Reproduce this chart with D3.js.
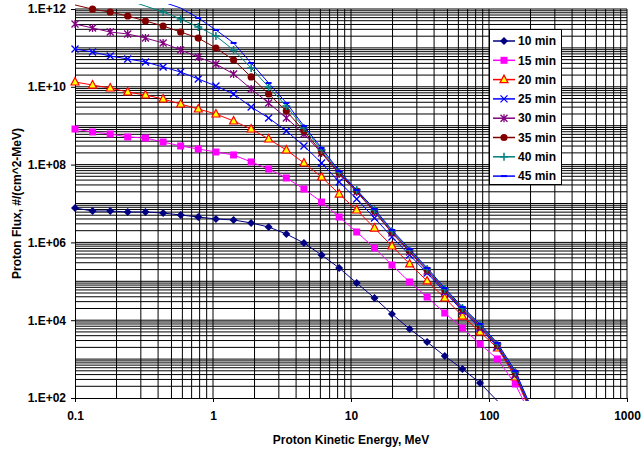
<!DOCTYPE html>
<html>
<head>
<meta charset="utf-8">
<script src="https://cdn.jsdelivr.net/npm/d3@7"></script>
<style>
  body { margin: 0; background: #fff; }
  svg { display: block; font-family: "Liberation Sans", Arial, sans-serif; }
</style>
</head>
<body>
<svg width="643" height="453"></svg>
<script>
// energies (MeV) shared by all series
const energy = [0.1, 0.134, 0.18, 0.241, 0.324, 0.435, 0.583, 0.782, 1.05, 1.41, 1.89, 2.53, 3.4, 4.56,
  6.12, 8.21, 11.0, 14.8, 19.8, 26.6, 35.6, 47.8, 64.2, 86.1, 115, 155, 208];

const seriesNames = ["10 min", "15 min", "20 min", "25 min", "30 min", "35 min", "40 min", "45 min"];

const flux10 = [7.66e6, 6.41e6, 6.41e6, 6.04e6, 6.04e6, 5.7e6, 5.06e6, 4.5e6, 4.0e6, 3.77e6, 3.16e6, 2.49e6, 1.64e6,
  9.66e5, 4.74e5, 2.2e5, 9.04e4, 3.72e4, 1.45e4, 5.94e3, 2.75e3, 1.2e3, 557, 243, 84, 31];
const flux15 = [8.22e8, 6.89e8, 6.12e8, 5.13e8, 4.83e8, 3.81e8, 3.01e8, 2.52e8, 2.11e8, 1.77e8, 1.17e8, 7.71e7, 4.53e7,
  2.36e7, 1.09e7, 4.5e6, 1.85e6, 7.18e5, 2.62e5, 9.59e4, 3.94e4, 1.53e4, 6.3e3, 2.44e3, 1.01e3, 229, 27];
const flux20 = [1.33e10, 1.11e10, 9.31e9, 7.35e9, 6.15e9, 4.85e9, 3.61e9, 2.69e9, 2.0e9, 1.32e9, 8.22e8, 4.55e8, 2.37e8,
  1.1e8, 4.8e7, 1.75e7, 6.81e6, 2.34e6, 8.07e5, 2.79e5, 1.02e5, 3.72e4, 1.28e4, 4.98e3, 1.93e3, 347, 33];
const flux25 = [9.38e10, 7.85e10, 6.19e10, 5.19e10, 4.35e10, 3.23e10, 2.4e10, 1.59e10, 1.05e10, 6.53e9, 3.03e9, 1.58e9,
  7.31e8, 3.01e8, 1.1e8, 3.57e7, 1.31e7, 4.24e6, 1.38e6, 4.74e5, 1.63e5, 5.31e4, 1.73e4, 6.31e3, 2.05e3, 390, 37];
const flux30 = [4.11e11, 3.25e11, 2.56e11, 2.28e11, 1.79e11, 1.34e11, 8.83e10, 5.83e10, 3.85e10, 2.13e10, 8.77e9,
  3.84e9, 1.58e9, 6.12e8, 1.99e8, 5.73e7, 1.98e7, 6.04e6, 1.75e6, 5.66e5, 1.84e5, 5.64e4, 1.83e4, 6.68e3, 2.22e3, 409, 39];
const flux35 = [1.27e12, 9.9e11, 8.37e11, 6.61e11, 4.92e11, 3.66e11, 2.56e11, 1.79e11, 9.93e10, 4.89e10, 1.79e10,
  6.53e9, 2.39e9, 7.31e8, 2.11e8, 6.08e7, 2.09e7, 6.41e6, 1.85e6, 6.01e5, 1.95e5, 5.97e4, 1.94e4, 7.1e3, 2.3e3, 440, 41];
const flux40 = [3.47e12, 2.74e12, 2.16e12, 1.7e12, 1.19e12, 8.37e11, 5.53e11, 3.44e11, 2.02e11, 8.83e10, 3.04e10,
  9.89e9, 3.21e9, 8.73e8, 2.37e8, 6.46e7, 2.22e7, 6.81e6, 1.96e6, 6.38e5, 2.07e5, 6.34e4, 2.06e4, 7.53e3, 2.44e3, 466, 44];
const flux45 = [6.27e12, 4.94e12, 3.9e12, 2.9e12, 2.16e12, 1.51e12, 1.06e12, 5.87e11, 2.88e11, 1.34e11, 4.09e10,
  1.25e10, 3.84e9, 9.82e8, 2.67e8, 6.84e7, 2.22e7, 7.23e6, 2.08e6, 6.76e5, 2.2e5, 6.73e4, 2.18e4, 7.98e3, 2.59e3, 494, 46];

const xTickLabels = ["0.1", "1", "10", "100", "1000"];
const yTickLabels = ["1.E+02", "1.E+04", "1.E+06", "1.E+08", "1.E+10", "1.E+12"];

const allFlux = [flux10, flux15, flux20, flux25, flux30, flux35, flux40, flux45];

// 계열별 스타일
const styles = [
  { color: "#000080", marker: "diamond" },
  { color: "#FF00FF", marker: "square" },
  { color: "#FF0000", marker: "triangle" },
  { color: "#0000FF", marker: "x" },
  { color: "#800080", marker: "star" },
  { color: "#800000", marker: "circle" },
  { color: "#008080", marker: "plus" },
  { color: "#0000FF", marker: "dash" }
];

const svg = d3.select("svg");
const plotLeft = 75, plotRight = 627, plotTop = 9, plotBottom = 398;

const x = d3.scaleLog().domain([0.1, 1000]).range([plotLeft, plotRight]);
const y = d3.scaleLog().domain([1e2, 1e12]).range([plotBottom, plotTop]);

// 마커 그리기
function drawMarker(g, type, color) {
  if (type === "diamond") g.append("path").attr("d", "M0,-4L4,0L0,4L-4,0Z").attr("fill", color);
  else if (type === "square") g.append("rect").attr("x", -3.5).attr("y", -3.5).attr("width", 7).attr("height", 7).attr("fill", color);
  else if (type === "triangle") g.append("path").attr("d", "M0,-4.5L4,3L-4,3Z").attr("fill", "#FFFF00").attr("stroke", color).attr("stroke-width", 1.2);
  else if (type === "x") g.append("path").attr("d", "M-3.5,-3.5L3.5,3.5M-3.5,3.5L3.5,-3.5").attr("stroke", color).attr("stroke-width", 1.3);
  else if (type === "star") g.append("path").attr("d", "M-3.5,-3.5L3.5,3.5M-3.5,3.5L3.5,-3.5M0,-4L0,4").attr("stroke", color).attr("stroke-width", 1.3);
  else if (type === "circle") g.append("circle").attr("r", 3.6).attr("fill", color);
  else if (type === "plus") g.append("path").attr("d", "M-4,0H4M0,-4V4").attr("stroke", color).attr("stroke-width", 1.5);
  else if (type === "dash") g.append("path").attr("d", "M-3,0H3").attr("stroke", color).attr("stroke-width", 2);
}

// 격자선 (1~9 배수)
const grid = svg.append("g").attr("stroke", "#000").attr("stroke-width", 1);
const xGrid = x.ticks(40).filter((d) => d > 0.1 + 1e-9);
const yGrid = y.ticks(100).filter((d) => d > 1e2 * 1.0001);
grid.selectAll(".gx").data(xGrid).enter().append("line")
  .attr("x1", (d) => x(d)).attr("x2", (d) => x(d)).attr("y1", plotTop).attr("y2", plotBottom);
grid.selectAll(".gy").data(yGrid).enter().append("line")
  .attr("x1", plotLeft).attr("x2", plotRight).attr("y1", (d) => y(d)).attr("y2", (d) => y(d));

// 축
const xAxis = d3.axisBottom(x).tickValues([0.1, 1, 10, 100, 1000]).tickSize(4).tickPadding(5)
  .tickFormat((d, i) => xTickLabels[i]);
const yAxis = d3.axisLeft(y).tickValues([1e2, 1e4, 1e6, 1e8, 1e10, 1e12]).tickSize(4).tickPadding(5)
  .tickFormat((d, i) => yTickLabels[i]);

svg.append("g").attr("transform", `translate(0,${plotBottom})`).call(xAxis)
  .call((g) => g.selectAll("text").style("font-size", "12px").style("font-weight", "bold").attr("fill", "#000").attr("dy", "1.1em"));
svg.append("g").attr("transform", `translate(${plotLeft},0)`).call(yAxis)
  .call((g) => g.selectAll("text").style("font-size", "12px").style("font-weight", "bold").attr("fill", "#000"));
svg.selectAll(".domain").attr("stroke", "#000");
svg.selectAll(".tick line").attr("stroke", "#000");

// 데이터 계열
svg.append("clipPath").attr("id", "clip").append("rect")
  .attr("x", plotLeft).attr("y", 4).attr("width", plotRight - plotLeft).attr("height", 401 - 4);

const line = d3.line().x((d) => x(d[0])).y((d) => y(d[1]));

allFlux.forEach((vals, s) => {
  const pts = vals.map((v, i) => [energy[i], v]);
  svg.append("path").datum(pts).attr("d", line)
    .attr("fill", "none").attr("stroke", styles[s].color).attr("stroke-width", 1)
    .attr("clip-path", "url(#clip)");
  const visible = pts.filter((p) => p[1] >= 1e2 && p[1] <= 1e12);
  visible.forEach((p) => {
    const g = svg.append("g").attr("transform", `translate(${x(p[0])},${y(p[1])})`);
    drawMarker(g, styles[s].marker, styles[s].color);
  });
});

// 축 제목
svg.append("text").attr("x", (plotLeft + plotRight) / 2).attr("y", 444).attr("text-anchor", "middle")
  .style("font-size", "12px").style("font-weight", "bold").text("Proton Kinetic Energy, MeV");
svg.append("text").attr("transform", `translate(17,${(plotTop + plotBottom) / 2}) rotate(-90)`)
  .attr("text-anchor", "middle").attr("dy", "0.35em")
  .style("font-size", "12px").style("font-weight", "bold").text("Proton Flux, #/(cm^2-MeV)");

// 범례
const legend = svg.append("g");
legend.append("rect").attr("x", 489.5).attr("y", 29.5).attr("width", 72).attr("height", 155)
  .attr("fill", "#fff").attr("stroke", "#000");
seriesNames.forEach((name, i) => {
  const ly = 41 + i * 19.3;
  legend.append("line").attr("x1", 493).attr("x2", 515).attr("y1", ly).attr("y2", ly)
    .attr("stroke", styles[i].color).attr("stroke-width", 1.5);
  const g = legend.append("g").attr("transform", `translate(504,${ly})`);
  drawMarker(g, styles[i].marker, styles[i].color);
  legend.append("text").attr("x", 518).attr("y", ly).attr("dy", "0.35em")
    .style("font-size", "12px").style("font-weight", "bold").text(name);
});
</script>
</body>
</html>
